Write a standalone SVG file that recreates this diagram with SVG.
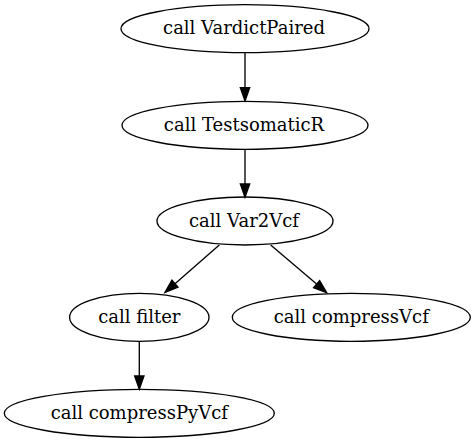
<svg xmlns="http://www.w3.org/2000/svg" width="476" height="443" viewBox="0 0 476 443">
<style>
.node ellipse{fill:none;stroke:#000;stroke-width:1.33}
.edge{stroke:#000;stroke-width:1.33;fill:none;marker-end:url(#arrow)}
</style>
<defs>
<marker id="arrow" viewBox="0 -6 15 12" refX="0" refY="0" markerWidth="15" markerHeight="12" markerUnits="userSpaceOnUse" orient="auto" overflow="visible">
<path d="M0,-4.67 L13.33,0 L0,4.67 Z" fill="#000" stroke="#000" stroke-width="1.33"/>
</marker>
</defs>
<rect width="476" height="443" fill="#fff"/>
<g id="connectors">
<line class="edge" x1="245" y1="52.7" x2="245" y2="87.7"/>
<line class="edge" x1="245" y1="149.3" x2="245" y2="184"/>
<line class="edge" x1="219.3" y1="245" x2="175" y2="283.7"/>
<line class="edge" x1="270.7" y1="245" x2="316.6" y2="284.1"/>
<line class="edge" x1="139.3" y1="341.3" x2="139.3" y2="376"/>
</g>
<g font-family="'DejaVu Serif', 'Liberation Serif', serif" font-size="18" text-anchor="middle" fill="#000">
<g id="node-vardictpaired" class="node">
<ellipse cx="245" cy="28.7" rx="124" ry="24"/>
<text x="244" y="34.3">call VardictPaired</text>
</g>
<g id="node-testsomaticr" class="node">
<ellipse cx="245" cy="125.3" rx="123" ry="24"/>
<text x="244" y="130.9">call TestsomaticR</text>
</g>
<g id="node-var2vcf" class="node">
<ellipse cx="245" cy="221" rx="88" ry="24"/>
<text x="244" y="226.6">call Var2Vcf</text>
</g>
<g id="node-filter" class="node">
<ellipse cx="139.3" cy="317.3" rx="69.7" ry="24"/>
<text x="139.3" y="322.9">call filter</text>
</g>
<g id="node-compressvcf" class="node">
<ellipse cx="351.3" cy="317.3" rx="119" ry="24"/>
<text x="351.3" y="322.9">call compressVcf</text>
</g>
<g id="node-compresspyvcf" class="node">
<ellipse cx="139.3" cy="413.3" rx="135" ry="24"/>
<text x="139.3" y="418.9">call compressPyVcf</text>
</g>
</g>
</svg>
